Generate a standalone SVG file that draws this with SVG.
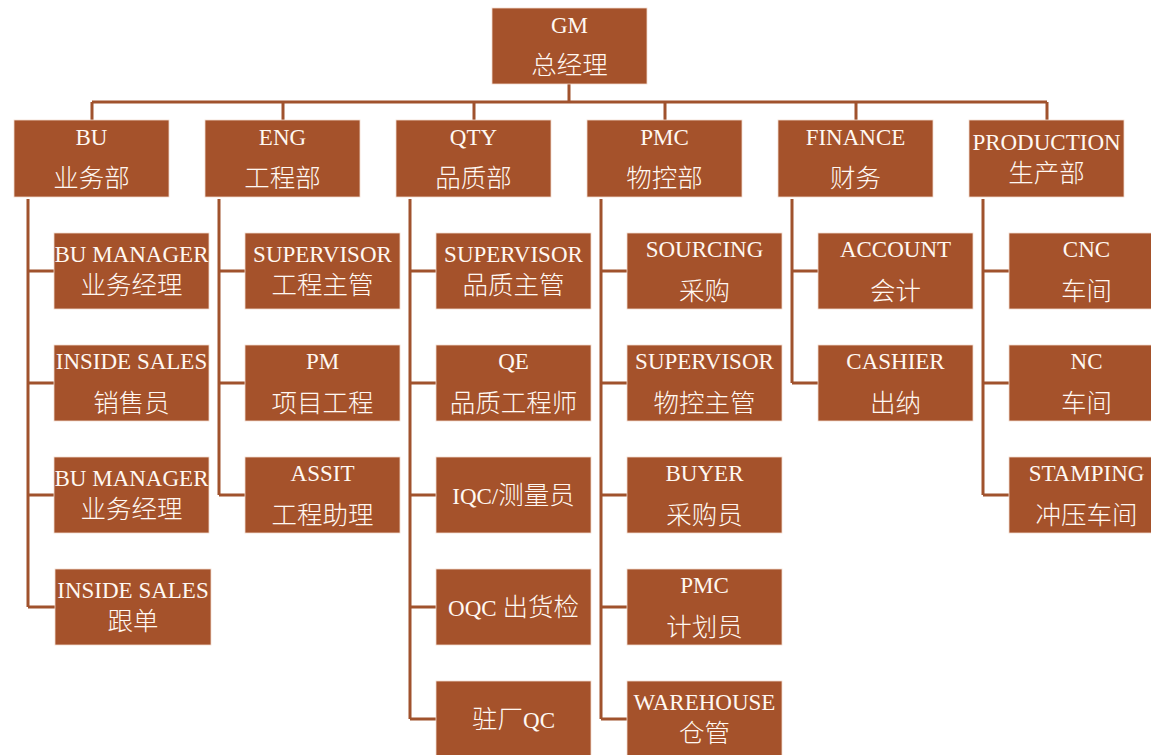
<svg xmlns="http://www.w3.org/2000/svg" width="1151" height="755" viewBox="0 0 1151 755">
<style>
.box{fill:#A5522B;stroke:#F3DCCF;stroke-width:0.8}
text{fill:#FFF8F2;text-anchor:middle;font-family:"Liberation Serif","Noto Sans CJK SC",serif}
.en{font-size:23px}
.zh{font-size:25.5px;font-family:"Noto Sans CJK SC","Liberation Sans",sans-serif;font-weight:300}
.mx{font-size:23px}
.conn{stroke:#A0522D;stroke-width:3;fill:none}
</style>
<rect width="1151" height="755" fill="#FFFFFF"/>
<g id="connectors" class="conn">
<path d="M569,84V102M92,102H1047M92,102V120M283,102V120M474,102V120M665,102V120M856,102V120M1047,102V120"/>
<path d="M28,199V607M28,271H54M28,383H54M28,495H54M28,607H55"/>
<path d="M219,199V495M219,271H245M219,383H245M219,495H245"/>
<path d="M410,199V719M410,271H436M410,383H436M410,495H436M410,607H436M410,719H436"/>
<path d="M601,199V719M601,271H627M601,383H627M601,495H627M601,607H627M601,719H627"/>
<path d="M792,199V383M792,271H818M792,383H818"/>
<path d="M983,199V495M983,271H1009M983,383H1009M983,495H1009"/>
</g>
<g id="gm"><rect class="box" x="492" y="8" width="155" height="76"/><text class="en" x="569.5" y="33">GM</text><text class="zh" x="569.5" y="74">总经理</text></g>
<g id="bu"><rect class="box" x="14" y="120" width="155" height="77"/><text class="en" x="91.5" y="145">BU</text><text class="zh" x="91.5" y="187">业务部</text></g>
<g id="eng"><rect class="box" x="205" y="120" width="155" height="77"/><text class="en" x="282.5" y="145">ENG</text><text class="zh" x="282.5" y="187">工程部</text></g>
<g id="qty"><rect class="box" x="396" y="120" width="155" height="77"/><text class="en" x="473.5" y="145">QTY</text><text class="zh" x="473.5" y="187">品质部</text></g>
<g id="pmc"><rect class="box" x="587" y="120" width="155" height="77"/><text class="en" x="664.5" y="145">PMC</text><text class="zh" x="664.5" y="187">物控部</text></g>
<g id="finance"><rect class="box" x="778" y="120" width="155" height="77"/><text class="en" x="855.5" y="145">FINANCE</text><text class="zh" x="855.5" y="187">财务</text></g>
<g id="production"><rect class="box" x="969" y="120" width="155" height="77"/><text class="en" x="1046.5" y="150">PRODUCTION</text><text class="zh" x="1046.5" y="182">生产部</text></g>

<g id="bu-manager-1"><rect class="box" x="54" y="233" width="155" height="76"/><text class="en" x="131.5" y="262">BU MANAGER</text><text class="zh" x="131.5" y="294">业务经理</text></g>
<g id="inside-sales-1"><rect class="box" x="54" y="345" width="155" height="76"/><text class="en" x="131.5" y="369">INSIDE SALES</text><text class="zh" x="131.5" y="412">销售员</text></g>
<g id="bu-manager-2"><rect class="box" x="54" y="457" width="155" height="76"/><text class="en" x="131.5" y="486">BU MANAGER</text><text class="zh" x="131.5" y="518">业务经理</text></g>
<g id="inside-sales-2"><rect class="box" x="55" y="569" width="156" height="76"/><text class="en" x="133" y="598">INSIDE SALES</text><text class="zh" x="133" y="630">跟单</text></g>

<g id="eng-supervisor"><rect class="box" x="245" y="233" width="155" height="76"/><text class="en" x="322.5" y="262">SUPERVISOR</text><text class="zh" x="322.5" y="294">工程主管</text></g>
<g id="eng-pm"><rect class="box" x="245" y="345" width="155" height="76"/><text class="en" x="322.5" y="369">PM</text><text class="zh" x="322.5" y="412">项目工程</text></g>
<g id="eng-assit"><rect class="box" x="245" y="457" width="155" height="76"/><text class="en" x="322.5" y="481">ASSIT</text><text class="zh" x="322.5" y="524">工程助理</text></g>

<g id="qty-supervisor"><rect class="box" x="436" y="233" width="155" height="76"/><text class="en" x="513.5" y="262">SUPERVISOR</text><text class="zh" x="513.5" y="294">品质主管</text></g>
<g id="qty-qe"><rect class="box" x="436" y="345" width="155" height="76"/><text class="en" x="513.5" y="369">QE</text><text class="zh" x="513.5" y="412">品质工程师</text></g>
<g id="qty-iqc"><rect class="box" x="436" y="457" width="155" height="76"/><text class="mx" x="513.5" y="504">IQC/<tspan class="zh">测量员</tspan></text></g>
<g id="qty-oqc"><rect class="box" x="436" y="569" width="155" height="76"/><text class="mx" x="513.5" y="616">OQC <tspan class="zh">出货检</tspan></text></g>
<g id="qty-onsite"><rect class="box" x="436" y="681" width="155" height="76"/><text class="mx" x="513.5" y="728"><tspan class="zh">驻厂</tspan>QC</text></g>

<g id="pmc-sourcing"><rect class="box" x="627" y="233" width="155" height="76"/><text class="en" x="704.5" y="257">SOURCING</text><text class="zh" x="704.5" y="300">采购</text></g>
<g id="pmc-supervisor"><rect class="box" x="627" y="345" width="155" height="76"/><text class="en" x="704.5" y="369">SUPERVISOR</text><text class="zh" x="704.5" y="412">物控主管</text></g>
<g id="pmc-buyer"><rect class="box" x="627" y="457" width="155" height="76"/><text class="en" x="704.5" y="481">BUYER</text><text class="zh" x="704.5" y="524">采购员</text></g>
<g id="pmc-pmc"><rect class="box" x="627" y="569" width="155" height="76"/><text class="en" x="704.5" y="593">PMC</text><text class="zh" x="704.5" y="636">计划员</text></g>
<g id="pmc-warehouse"><rect class="box" x="627" y="681" width="155" height="76"/><text class="en" x="704.5" y="710">WAREHOUSE</text><text class="zh" x="704.5" y="742">仓管</text></g>

<g id="fin-account"><rect class="box" x="818" y="233" width="155" height="76"/><text class="en" x="895.5" y="257">ACCOUNT</text><text class="zh" x="895.5" y="300">会计</text></g>
<g id="fin-cashier"><rect class="box" x="818" y="345" width="155" height="76"/><text class="en" x="895.5" y="369">CASHIER</text><text class="zh" x="895.5" y="412">出纳</text></g>

<g id="prod-cnc"><rect class="box" x="1009" y="233" width="155" height="76"/><text class="en" x="1086.5" y="257">CNC</text><text class="zh" x="1086.5" y="300">车间</text></g>
<g id="prod-nc"><rect class="box" x="1009" y="345" width="155" height="76"/><text class="en" x="1086.5" y="369">NC</text><text class="zh" x="1086.5" y="412">车间</text></g>
<g id="prod-stamping"><rect class="box" x="1009" y="457" width="155" height="76"/><text class="en" x="1086.5" y="481">STAMPING</text><text class="zh" x="1086.5" y="524">冲压车间</text></g>
</svg>
